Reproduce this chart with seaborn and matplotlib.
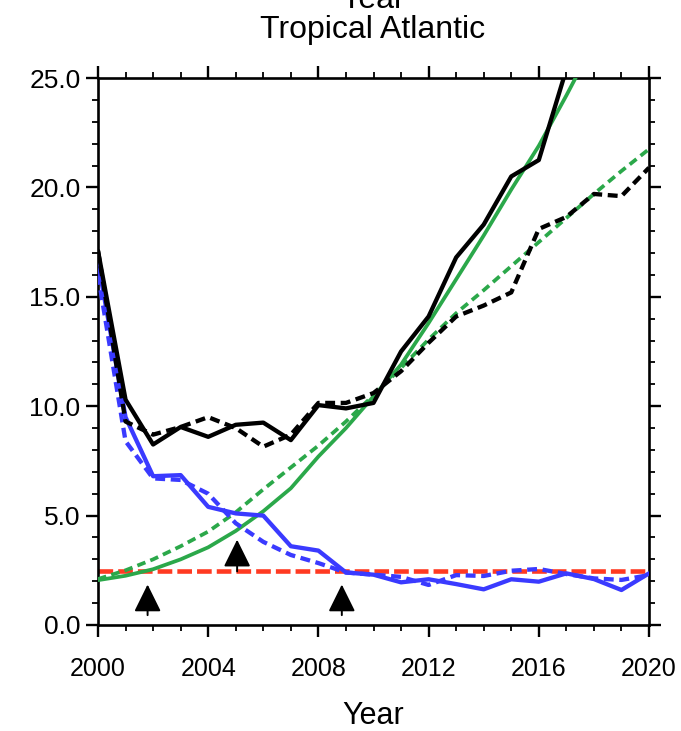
import numpy as np
import pandas as pd
import matplotlib
matplotlib.use("Agg")
import matplotlib.pyplot as plt
import seaborn as sns
from matplotlib.ticker import MultipleLocator, FormatStrFormatter

# ---------------- data ----------------
years = list(range(2000, 2021))

black_solid_years = list(range(2000, 2018))
black_solid = [17.1, 10.3, 8.25, 9.05, 8.6, 9.15, 9.25, 8.45, 10.05, 9.9, 10.15,
               12.5, 14.1, 16.8, 18.3, 20.5, 21.25, 25.4]
black_dashed = [17.1, 9.3, 8.7, 9.05, 9.5, 9.0, 8.15, 8.7, 10.15, 10.15, 10.6,
                11.6, 12.9, 14.1, 14.6, 15.2, 18.1, 18.65, 19.7, 19.6, 20.9]

blue_solid = [16.6, 9.5, 6.8, 6.85, 5.4, 5.1, 5.0, 3.6, 3.4, 2.4, 2.3,
              1.95, 2.09, 1.87, 1.63, 2.09, 1.98, 2.36, 2.1, 1.6, 2.36]
blue_dashed = [16.0, 8.4, 6.7, 6.63, 6.0, 4.65, 3.8, 3.2, 2.83, 2.4, 2.3,
               2.2, 1.83, 2.28, 2.24, 2.48, 2.56, 2.33, 2.13, 2.06, 2.28]

green_solid_years = list(range(2000, 2019))
green_solid = [2.05, 2.25, 2.55, 3.0, 3.55, 4.3, 5.2, 6.25, 7.7, 9.0, 10.45,
               11.9, 13.8, 15.8, 17.8, 19.9, 21.9, 24.2, 26.6]
green_dashed = [2.1, 2.5, 3.0, 3.6, 4.27, 5.15, 6.2, 7.2, 8.2, 9.3, 10.5,
                11.75, 13.05, 14.25, 15.3, 16.4, 17.5, 18.6, 19.7, 20.75, 21.75]

red_level = 2.45

arrow_x = [2001.8, 2005.05, 2008.85]
arrow_tip = [1.85, 3.9, 1.85]
arrow_base = [0.45, 2.45, 0.45]

title_lines = ["Year", "Tropical Atlantic"]
x_label = "Year"
x_ticks = [2000, 2004, 2008, 2012, 2016, 2020]
y_ticks = [0, 5, 10, 15, 20, 25]

# ---------------- style ----------------
sns.set_theme(style="ticks")
plt.rcParams["font.family"] = ["Liberation Sans", "DejaVu Sans"]

BLACK = "#000000"
BLUE = "#3a3aff"
GREEN = "#2ba84a"
RED = "#ff3a22"

fig = plt.figure(figsize=(6.81, 7.31), dpi=100)
ax = fig.add_axes([98 / 681, 1 - 625 / 731, (649 - 98) / 681, (625 - 78) / 731])

# red horizontal reference
sns.lineplot(x=[years[0], years[-1]], y=[red_level, red_level], ax=ax, color=RED,
             linewidth=3.3, linestyle=(0, (3.2, 1.1)), zorder=2)

# green curves
sns.lineplot(x=green_solid_years, y=green_solid, ax=ax, color=GREEN,
             linewidth=2.7, zorder=3)
sns.lineplot(x=years, y=green_dashed, ax=ax, color=GREEN,
             linewidth=2.7, linestyle=(0, (2.3, 1.4)), zorder=3)

# blue curves
sns.lineplot(x=years, y=blue_solid, ax=ax, color=BLUE, linewidth=3.1, zorder=4)
sns.lineplot(x=years, y=blue_dashed, ax=ax, color=BLUE, linewidth=3.1,
             linestyle=(0, (2.3, 1.3)), zorder=4)

# black curves
sns.lineplot(x=black_solid_years, y=black_solid, ax=ax, color=BLACK,
             linewidth=3.1, zorder=5)
sns.lineplot(x=years, y=black_dashed, ax=ax, color=BLACK, linewidth=3.1,
             linestyle=(0, (2.3, 1.3)), zorder=5)

# arrows
for xa, yt, yb in zip(arrow_x, arrow_tip, arrow_base):
    ax.annotate("", xy=(xa, yt), xytext=(xa, yb),
                arrowprops=dict(arrowstyle="-|>,head_length=0.85,head_width=0.42",
                                mutation_scale=20, color="black", lw=1.4,
                                shrinkA=0, shrinkB=0),
                zorder=6)

ax.set_xlim(2000, 2020)
ax.set_ylim(0, 25)
ax.xaxis.set_major_locator(MultipleLocator(4))
ax.xaxis.set_minor_locator(MultipleLocator(1))
ax.yaxis.set_major_locator(MultipleLocator(5))
ax.yaxis.set_minor_locator(MultipleLocator(1))
ax.yaxis.set_major_formatter(FormatStrFormatter("%.1f"))
ax.set_xticks(x_ticks)
ax.set_yticks(y_ticks)

for s in ax.spines.values():
    s.set_visible(True)
    s.set_linewidth(1.9)
    s.set_color("black")

ax.tick_params(which="both", direction="out", top=True, right=True,
               color="black", labelcolor="black")
ax.tick_params(which="major", length=8.6, width=1.7)
ax.tick_params(which="minor", length=4.3, width=1.3)
ax.tick_params(axis="x", which="major", pad=14.5, labelsize=18)
ax.tick_params(axis="y", which="major", pad=4, labelsize=19)

ax.set_xlabel("")
ax.set_ylabel("")
ax.set_facecolor("white")
ax.grid(False)

fig.text(373 / 681, 1 - 724 / 731, x_label, ha="center", va="baseline",
         fontsize=22, color="black")
fig.text(373 / 681, 1 - 8 / 731, title_lines[0], ha="center", va="baseline",
         fontsize=23, color="black")
fig.text(373 / 681, 1 - 38 / 731, title_lines[1], ha="center", va="baseline",
         fontsize=23, color="black")

fig.savefig("out.png", dpi=100, facecolor="white")
